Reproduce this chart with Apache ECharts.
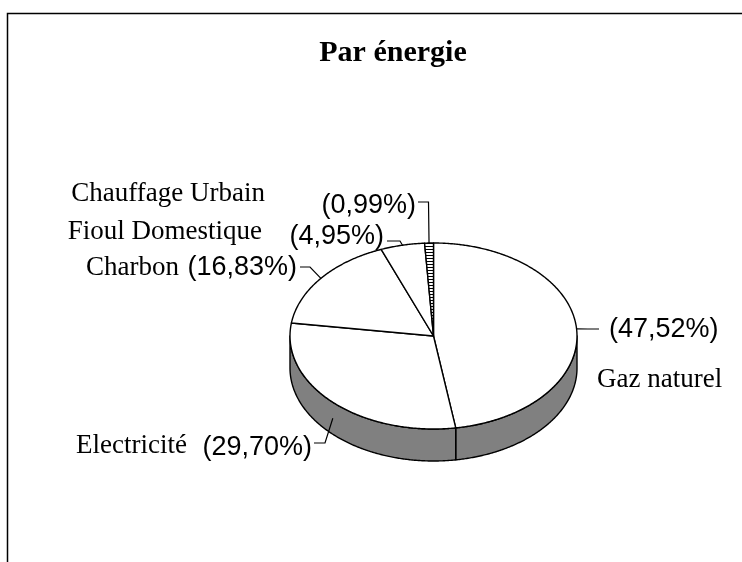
<!DOCTYPE html>
<html>
<head>
<meta charset="utf-8">
<script src="https://cdn.jsdelivr.net/npm/echarts@6/dist/echarts.min.js"></script>
<style>
html,body{margin:0;padding:0;background:#fff;}
#chart{width:742px;height:562px;}
</style>
</head>
<body>
<div id="chart"></div>
<script>
// ---- data ----
const title = 'Par énergie';
const categories = ['Gaz naturel', 'Electricité', 'Charbon', 'Fioul Domestique', 'Chauffage Urbain'];
const shares = [47.52, 29.70, 16.83, 4.95, 0.99];

// ---- layout (styles / positions, not data) ----
const PIE = { cx: 433.5, cy: 336, rx: 143.5, ry: 93, depth: 32 };
const labelLayout = [
  { pct: [609, 330, 'left'],  name: [597, 380, 'left'],  lead: [[599, 329], [588, 329]] },
  { pct: [312, 448, 'right'], name: [187, 446, 'right'], lead: [[314, 443], [325, 443]], side: true },
  { pct: [297, 268, 'right'], name: [179, 268, 'right'], lead: [[300, 267], [310, 267]] },
  { pct: [384, 237, 'right'], name: [262, 232, 'right'], lead: [[387, 241], [400, 241]] },
  { pct: [416, 206, 'right'], name: [265, 194, 'right'], lead: [[418, 202], [428.5, 202]] }
];
const SANS = '"Liberation Sans", Arial, sans-serif';
const SERIF = '"Liberation Serif", "Times New Roman", serif';

function fmtPct(v) { return '(' + v.toFixed(2).replace('.', ',') + '%)'; }

function rim(theta, drop) {
  const r = theta * Math.PI / 180;
  return [PIE.cx + PIE.rx * Math.sin(r), PIE.cy - PIE.ry * Math.cos(r) + drop];
}
function arc(a0, a1, drop) {
  const pts = [];
  const n = Math.max(2, Math.ceil(Math.abs(a1 - a0) / 0.5));
  for (let k = 0; k <= n; k++) pts.push(rim(a0 + (a1 - a0) * k / n, drop));
  return pts;
}

// hatch pattern for the small slice
const hatch = document.createElement('canvas');
hatch.width = 4; hatch.height = 3;
(function () {
  const c = hatch.getContext('2d');
  c.fillStyle = '#ffffff'; c.fillRect(0, 0, 4, 3);
  c.fillStyle = '#000000'; c.fillRect(0, 0, 4, 1);
})();

const total = shares.reduce((a, b) => a + b, 0);

function renderItem(params, api) {
  const i = params.dataIndex;
  let before = 0;
  for (let j = 0; j < i; j++) before += shares[j];
  const v = api.value(0);
  const a0 = before / total * 360;
  const a1 = (before + v) / total * 360;
  const children = [];
  // side wall (front half only)
  const s0 = Math.max(a0, 90), s1 = Math.min(a1, 270);
  if (s1 > s0) {
    const pts = arc(s0, s1, 0).concat(arc(s1, s0, PIE.depth));
    children.push({ type: 'polygon', z2: 1, shape: { points: pts },
      style: { fill: '#808080', stroke: '#000', lineWidth: 1.4, lineJoin: 'round' } });
  }
  // top face
  const top = [[PIE.cx, PIE.cy]].concat(arc(a0, a1, 0));
  children.push({ type: 'polygon', z2: 2, shape: { points: top },
    style: { fill: i === 4 ? { image: hatch, repeat: 'repeat' } : '#ffffff', stroke: '#000', lineWidth: 1.4, lineJoin: 'round' } });
  // leader line
  const L = labelLayout[i];
  const mid = (a0 + a1) / 2;
  const anchor = L.side ? rim(mid, PIE.depth / 2) : rim(mid, 0);
  children.push({ type: 'polyline', z2: 3, shape: { points: [L.lead[0], L.lead[1], anchor] },
    style: { fill: null, stroke: '#000', lineWidth: 1.2 } });
  // labels
  children.push({ type: 'text', z2: 4, x: L.pct[0], y: L.pct[1],
    style: { text: fmtPct(v), font: '27px ' + SANS, fill: '#000', align: L.pct[2], verticalAlign: 'middle' } });
  children.push({ type: 'text', z2: 4, x: L.name[0], y: L.name[1],
    style: { text: categories[i], font: '27px ' + SERIF, fill: '#000', align: L.name[2], verticalAlign: 'middle' } });
  return { type: 'group', children: children };
}

const chart = echarts.init(document.getElementById('chart'), null, { renderer: 'canvas' });
chart.setOption({
  backgroundColor: '#ffffff',
  animation: false,
  title: {
    text: title, left: 388, top: 48, textAlign: 'center', textVerticalAlign: 'middle',
    textStyle: { fontFamily: SERIF, fontWeight: 'bold', fontSize: 30, color: '#000' }
  },
  graphic: [{
    type: 'rect', shape: { x: 7.5, y: 13.5, width: 800, height: 600 },
    style: { fill: null, stroke: '#000', lineWidth: 1.5 }, silent: true
  }],
  series: [{
    type: 'custom',
    coordinateSystem: 'none',
    renderItem: renderItem,
    data: shares.map((v, k) => ({ name: categories[k], value: [v] }))
  }]
});
</script>
</body>
</html>
